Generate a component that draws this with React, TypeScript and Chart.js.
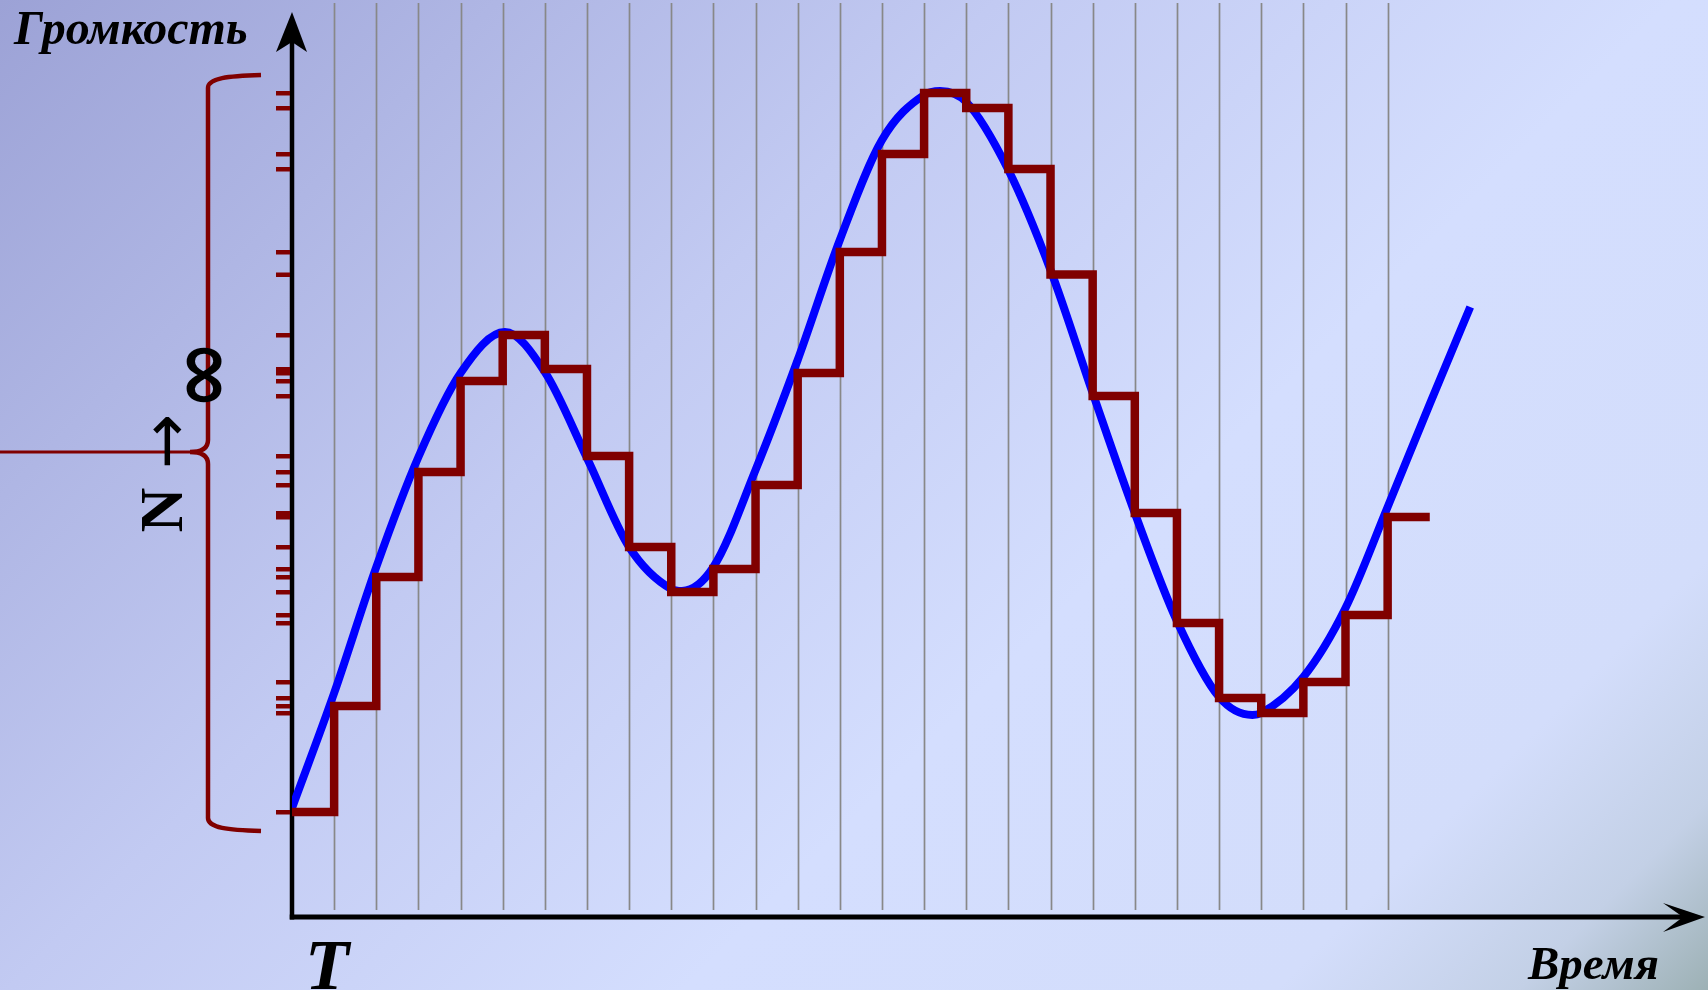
import React, { useEffect, useRef } from "react";
import { Chart, registerables } from "chart.js";

Chart.register(...registerables);

// ---- data ----
// sample-and-hold quantised levels, one per sampling interval T (t = 0..26)
const STEP_LEVELS = [
  10.5, 21.1, 34.0, 44.5, 53.6, 58.2, 54.8, 46.1, 37.0, 32.5, 34.8, 43.2, 54.4, 66.5,
  76.3, 82.4, 80.9, 74.8, 64.25, 52.1, 40.4, 29.4, 21.9, 20.4, 23.5, 30.2, 40.0,
];
const STEP_END_T = 27;

// analogue signal (blue curve) sampled points
const CURVE_T = [
  0, 1, 2, 3, 4, 5.05, 6, 7, 8, 9, 9.25, 10, 11, 12, 13, 14, 15, 15.38, 16, 17, 18, 19,
  20, 21, 22, 22.79, 23, 24, 25, 26, 27, 27.96,
];
const CURVE_V = [
  10.9, 22.4, 35.0, 46.0, 54.4, 58.5, 54.5, 45.9, 37.0, 32.8, 32.6, 35.0, 44.7, 55.7,
  67.7, 77.7, 82.2, 82.6, 81.5, 74.7, 64.7, 52.4, 40.4, 29.6, 22.0, 20.2, 20.4, 24.0,
  30.9, 41.0, 51.3, 61.0,
];

// sampling grid lines (t = 1..26)
const GRID_T = Array.from({ length: 26 }, (_, i) => i + 1);

// brace annotation (in value units): top, tip, bottom
const BRACE_TOP = 84.2;
const BRACE_MID = 46.5;
const BRACE_BOTTOM = 8.6;

const Y_TITLE = "Громкость";
const X_TITLE = "Время";
const T_LABEL = "T";

// ---- layout ----
const W = 1708;
const H = 990;
const AXIS_X = 292;
const AXIS_Y = 917;
const UNIT_X = 42.14;
const UNIT_Y = 10;
const X_MAX = 33;
const Y_MAX = 90;

const RED = "#800000";
const BLUE = "#0000ff";

function inkTopLeft(ctx: CanvasRenderingContext2D, text: string, font: string, left: number, top: number) {
  ctx.save();
  ctx.font = font;
  ctx.textAlign = "left";
  ctx.textBaseline = "alphabetic";
  const m = ctx.measureText(text);
  const x = left + m.actualBoundingBoxLeft;
  const y = top + m.actualBoundingBoxAscent;
  ctx.fillStyle = "#000";
  ctx.fillText(text, x, y);
  ctx.restore();
}

function inkCenterRotated(ctx: CanvasRenderingContext2D, text: string, font: string, cx: number, cy: number, rot: number) {
  ctx.save();
  ctx.font = font;
  ctx.textAlign = "left";
  ctx.textBaseline = "alphabetic";
  const m = ctx.measureText(text);
  const xc = (m.actualBoundingBoxRight - m.actualBoundingBoxLeft) / 2;
  const yc = (m.actualBoundingBoxDescent - m.actualBoundingBoxAscent) / 2;
  ctx.translate(cx, cy);
  ctx.rotate(rot);
  ctx.fillStyle = "#000";
  ctx.fillText(text, -xc, -yc);
  ctx.restore();
}

const decor = {
  id: "decor",
  beforeDraw(chart: any) {
    const ctx: CanvasRenderingContext2D = chart.ctx;
    const g = ctx.createLinearGradient(0, 0, (W + H) / 2, (W + H) / 2);
    g.addColorStop(0, "#9ca2d6");
    g.addColorStop(0.37, "#c2caf2");
    g.addColorStop(0.62, "#d4defe");
    g.addColorStop(0.84, "#d3ddfb");
    g.addColorStop(0.93, "#c3d0e6");
    g.addColorStop(1, "#9db1b5");
    ctx.save();
    ctx.fillStyle = g;
    ctx.fillRect(0, 0, W, H);
    ctx.restore();
  },
  beforeDatasetsDraw(chart: any) {
    const ctx: CanvasRenderingContext2D = chart.ctx;
    const xs = chart.scales.x;
    const ys = chart.scales.y;
    const x0 = xs.getPixelForValue(0);
    const y0 = ys.getPixelForValue(0);
    ctx.save();
    // grid lines
    ctx.strokeStyle = "#888888";
    ctx.lineWidth = 1.7;
    for (const t of GRID_T) {
      const x = Math.round(xs.getPixelForValue(t)) + 0.5;
      ctx.beginPath();
      ctx.moveTo(x, 3);
      ctx.lineTo(x, y0 - 7);
      ctx.stroke();
    }
    // axes
    ctx.strokeStyle = "#000";
    ctx.fillStyle = "#000";
    ctx.lineWidth = 4.5;
    ctx.beginPath();
    ctx.moveTo(x0, y0 + 2.5);
    ctx.lineTo(x0, 40);
    ctx.stroke();
    ctx.beginPath();
    ctx.moveTo(x0, 12);
    ctx.lineTo(x0 + 15, 52);
    ctx.lineTo(x0, 42);
    ctx.lineTo(x0 - 16, 52);
    ctx.closePath();
    ctx.fill();
    ctx.lineWidth = 5;
    ctx.beginPath();
    ctx.moveTo(x0 - 2.25, y0);
    ctx.lineTo(1685, y0);
    ctx.stroke();
    ctx.beginPath();
    ctx.moveTo(1705, y0);
    ctx.lineTo(1663, y0 + 15);
    ctx.lineTo(1683, y0);
    ctx.lineTo(1663, y0 - 14);
    ctx.closePath();
    ctx.fill();

    // brace
    const yt = ys.getPixelForValue(BRACE_TOP);
    const ym = ys.getPixelForValue(BRACE_MID);
    const yb = ys.getPixelForValue(BRACE_BOTTOM);
    const bx = x0 - 84;
    const ex = x0 - 31;
    const tip = x0 - 102;
    ctx.strokeStyle = RED;
    ctx.lineWidth = 4.5;
    ctx.beginPath();
    ctx.moveTo(ex, yt);
    ctx.bezierCurveTo(228, yt + 1, bx, yt + 3, bx, yt + 13);
    ctx.lineTo(bx, ym - 12);
    ctx.bezierCurveTo(bx, ym - 3, bx - 8, ym, tip, ym);
    ctx.bezierCurveTo(bx - 8, ym, bx, ym + 3, bx, ym + 12);
    ctx.lineTo(bx, yb - 13);
    ctx.bezierCurveTo(bx, yb - 3, 228, yb - 1, ex, yb);
    ctx.stroke();
    ctx.lineWidth = 3;
    ctx.beginPath();
    ctx.moveTo(tip + 2, ym);
    ctx.lineTo(0, ym);
    ctx.stroke();
    ctx.restore();
  },
  afterDatasetsDraw(chart: any) {
    const ctx: CanvasRenderingContext2D = chart.ctx;
    const xs = chart.scales.x;
    const ys = chart.scales.y;
    const x0 = xs.getPixelForValue(0);
    ctx.save();
    ctx.fillStyle = RED;
    for (const v of STEP_LEVELS) {
      const y = ys.getPixelForValue(v);
      ctx.fillRect(x0 - 16, y - 2, 14, 4.5);
    }
    ctx.restore();

    inkTopLeft(ctx, Y_TITLE, "bold italic 48px 'Liberation Serif'", 13, 12);
    inkTopLeft(ctx, X_TITLE, "bold italic 47px 'Liberation Serif'", 1527, 948);
    inkTopLeft(ctx, T_LABEL, "bold italic 72px 'Liberation Serif'", 310, 942);
    inkCenterRotated(ctx, "N", "bold 62px 'Liberation Serif'", 161.5, 510, -Math.PI / 2);
    inkCenterRotated(ctx, "→", "66px 'DejaVu Sans'", 167.5, 441, -Math.PI / 2);
    inkCenterRotated(ctx, "∞", "bold 84px 'DejaVu Sans'", 203.5, 375, -Math.PI / 2);
  },
};

export default function App() {
  const ref = useRef<HTMLCanvasElement | null>(null);
  useEffect(() => {
    if (!ref.current) return;
    const stepData = STEP_LEVELS.map((v, i) => ({ x: i, y: v }));
    stepData.push({ x: STEP_END_T, y: STEP_LEVELS[STEP_LEVELS.length - 1] });
    const curveData = CURVE_T.map((t, i) => ({ x: t, y: CURVE_V[i] }));
    const chart = new Chart(ref.current, {
      type: "line",
      data: {
        datasets: [
          {
            data: stepData,
            stepped: true,
            borderColor: RED,
            borderWidth: 8.5,
            borderJoinStyle: "miter",
            borderCapStyle: "butt",
            pointRadius: 0,
            fill: false,
          },
          {
            data: curveData,
            cubicInterpolationMode: "monotone",
            borderColor: BLUE,
            borderWidth: 8,
            borderCapStyle: "butt",
            pointRadius: 0,
            fill: false,
          },
        ],
      },
      options: {
        responsive: false,
        animation: false,
        devicePixelRatio: 1,
        events: [],
        layout: {
          padding: {
            left: AXIS_X,
            right: W - AXIS_X - X_MAX * UNIT_X,
            top: AXIS_Y - Y_MAX * UNIT_Y,
            bottom: H - AXIS_Y,
          },
        },
        scales: {
          x: { type: "linear", min: 0, max: X_MAX, display: false },
          y: { type: "linear", min: 0, max: Y_MAX, display: false },
        },
        plugins: {
          legend: { display: false },
          tooltip: { enabled: false },
        },
      },
      plugins: [decor],
    } as any);
    return () => chart.destroy();
  }, []);
  return (
    <canvas
      ref={ref}
      width={W}
      height={H}
      style={{ position: "fixed", left: 0, top: 0, width: W, height: H, display: "block" }}
    />
  );
}
